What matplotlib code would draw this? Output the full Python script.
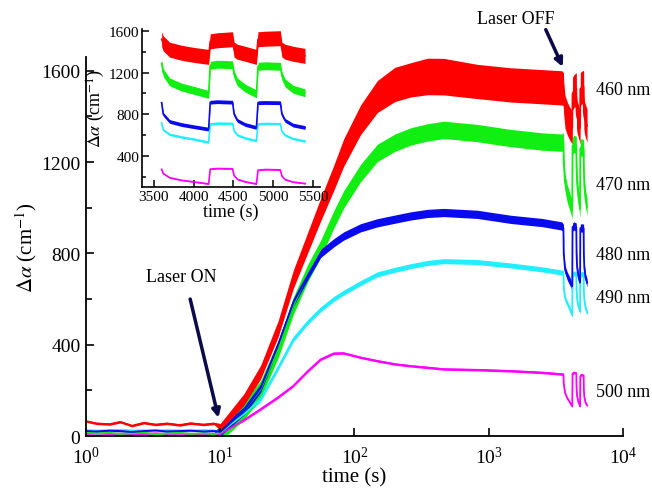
"""
Photo-induced absorption change vs time at five probe wavelengths,
with an inset of the on/off cycling after the laser is switched off.
"""
import matplotlib
matplotlib.use("Agg")
import matplotlib.pyplot as plt
from matplotlib.ticker import MultipleLocator, NullLocator, LogLocator
import numpy as np

plt.rcParams["font.family"] = ["Liberation Serif", "DejaVu Serif"]
plt.rcParams["mathtext.fontset"] = "stix"

# ---- data ------------------------------------------------------------------------
# time grids (s): dark baseline, growth under illumination, cycling after laser off
t_base = [1, 1.2, 1.5, 1.8, 2.2, 2.7, 3.3, 4, 5, 6, 7.5, 9]
t_rise = [10, 15, 20, 27, 35, 45, 56, 70, 83, 111, 148, 200, 262, 350, 464,
          822, 1459, 2500, 3500]
t_off = [3600, 3620, 3700, 3850, 4000, 4190, 4210, 4300, 4490, 4510, 4550,
         4650, 4790, 4810, 4900, 5090, 5110, 5150, 5250, 5400]

red_base = [65, 55, 52, 62, 45, 58, 50, 55, 48, 56, 50, 55]
red_rise = [40, 160, 280, 470, 686, 850, 992, 1130, 1241, 1385, 1487, 1540,
            1560, 1575, 1574, 1553, 1538, 1530, 1525]
red_off = [1520, 1480, 1420, 1390, 1370, 1350, 1500, 1510, 1520, 1420, 1400,
           1380, 1350, 1520, 1525, 1530, 1420, 1400, 1380, 1360]
red_noise_rise = [15, 25, 30, 35, 40, 45, 50, 55, 60, 65, 70, 75, 75, 80, 80,
                  75, 75, 75, 75]

green_base = [15, 12, 14, 10, 12, 15, 8, 12, 14, 10, 12, 8]
green_rise = [15, 110, 205, 380, 570, 715, 820, 948, 1036, 1152, 1240, 1285,
              1312, 1330, 1341, 1327, 1305, 1290, 1285]
green_off = [1290, 1200, 1110, 1060, 1030, 990, 1270, 1280, 1275, 1180, 1110,
             1050, 995, 1260, 1265, 1260, 1170, 1100, 1040, 1005]

blue_base = [22, 20, 24, 22, 18, 22, 25, 20, 22, 24, 20, 22]
blue_rise = [18, 110, 210, 400, 584, 705, 800, 846, 876, 912, 934, 950, 964,
             975, 979, 971, 949, 935, 920]
blue_off = [910, 800, 730, 700, 680, 656, 915, 920, 915, 800, 740, 700, 672,
            910, 912, 910, 800, 740, 695, 672]

cyan_base = [26, 24, 25, 27, 24, 25, 23, 26, 25, 24, 26, 25]
cyan_rise = [15, 95, 162, 300, 424, 500, 555, 600, 628, 670, 708, 728, 744,
             758, 766, 762, 747, 730, 716]
cyan_off = [715, 650, 605, 580, 560, 530, 705, 712, 710, 640, 600, 570, 545,
            705, 710, 708, 635, 598, 565, 540]

magenta_base = [10, 12, 10, 11, 9, 10, 12, 10, 11, 10, 9, 10]
magenta_rise = [8, 70, 118, 170, 220, 285, 336, 362, 363, 344, 329, 315, 307,
                300, 293, 290, 285, 278, 271]
magenta_off = [270, 230, 190, 165, 150, 130, 272, 278, 275, 210, 175, 150, 130,
               262, 268, 265, 205, 172, 148, 134]

wavelengths = ["460 nm", "470 nm", "480 nm", "490 nm", "500 nm"]
label_y = [1517, 1101, 795, 607, 197]

# (base, rise, off, noise half-width once lit, colour), drawn back to front
series = [
    (magenta_base, magenta_rise, magenta_off, 5, "#ff00ff"),
    (cyan_base, cyan_rise, cyan_off, 11, "#22eeff"),
    (green_base, green_rise, green_off, 38, "#11ee11"),
    (blue_base, blue_rise, blue_off, 18, "#0a0aee"),
    (red_base, red_rise, red_off, None, "#ff0000"),
]

ARROW = "#0b0b4a"


def noise_for(half, n_base, n_off):
    if half is None:  # red: band grows as the signal grows
        return np.array([5] * n_base + red_noise_rise + [72] * n_off, float)
    return np.array([3] * n_base + [half] * (len(t_rise) + n_off), float)


fig = plt.figure(figsize=(6.52, 4.89), dpi=100)
ax = fig.add_axes([0.1319, 0.1063, 0.8236, 0.775])

t_all = np.array(t_base + t_rise + t_off, dtype=float)
for base, rise, off, half, col in series:
    v = np.array(base + rise + off, dtype=float)
    hw = noise_for(half, len(base), len(off))
    ax.fill_between(t_all, v - hw, v + hw, color=col, lw=0)
    ax.plot(t_all, v, color=col, lw=1.3)

ax.set_xscale("log")
ax.set_xlim(1, 1e4)
ax.set_ylim(0, 1660)
ax.xaxis.set_major_locator(LogLocator(base=10))
ax.xaxis.set_minor_locator(NullLocator())
ax.yaxis.set_major_locator(MultipleLocator(400))
ax.yaxis.set_minor_locator(MultipleLocator(200))
ax.tick_params(which="both", direction="in", labelsize=14, width=1.2)
ax.tick_params(which="major", length=6)
ax.tick_params(which="minor", length=4)
ax.tick_params(axis="x", pad=7)
ax.tick_params(axis="y", pad=4)
for s in ("top", "right"):
    ax.spines[s].set_visible(False)
for s in ("left", "bottom"):
    ax.spines[s].set_linewidth(1.3)
ax.set_xlabel("time (s)", fontsize=15, labelpad=0)
ax.set_ylabel(r"$\Delta\alpha$ (cm$^{-1}$)", fontsize=15)
ax.yaxis.set_label_coords(-0.088, 0.5)

for txt, y in zip(wavelengths, label_y):
    ax.text(6290, y, txt, fontsize=13, ha="left", va="center")

ax.annotate("", xy=(9.7, 80), xytext=(5.97, 600),
            arrowprops=dict(arrowstyle="-|>", color=ARROW, lw=2.5,
                            mutation_scale=12, shrinkA=0, shrinkB=0))
ax.text(5.1, 700, "Laser ON", fontsize=13, ha="center", va="center")
ax.annotate("", xy=(3560, 1617), xytext=(2660, 1780),
            arrowprops=dict(arrowstyle="-|>", color=ARROW, lw=2.5,
                            mutation_scale=12, shrinkA=0, shrinkB=0),
            annotation_clip=False)
ax.text(1600, 1831, "Laser OFF", fontsize=13, ha="center", va="center",
        clip_on=False)

# ---- inset: cycling after laser off ------------------------------------------------
ins = fig.add_axes([0.218, 0.6155, 0.273, 0.3235])
t_in = np.array(t_off, dtype=float)
for base, rise, off, half, col in series:
    v = np.array(off, dtype=float)
    hw = 72 if half is None else half
    ins.fill_between(t_in, v - hw, v + hw, color=col, lw=0)
    ins.plot(t_in, v, color=col, lw=1.2)

ins.set_xlim(3355, 5590)
ins.set_ylim(100, 1620)
ins.xaxis.set_major_locator(MultipleLocator(500))
ins.yaxis.set_major_locator(MultipleLocator(400))
ins.yaxis.set_minor_locator(MultipleLocator(200))
ins.tick_params(which="both", direction="in", labelsize=11, width=1.1, pad=2)
ins.tick_params(which="major", length=5)
ins.tick_params(which="minor", length=3)
for s in ("top", "right"):
    ins.spines[s].set_visible(False)
for s in ("left", "bottom"):
    ins.spines[s].set_linewidth(1.2)
ins.set_xlabel("time (s)", fontsize=13, labelpad=0)
ins.set_ylabel(r"$\Delta\alpha$ (cm$^{-1}$)", fontsize=13)
ins.yaxis.set_label_coords(-0.2, 0.5)
ins.patch.set_alpha(0)

fig.savefig("out.png", dpi=100)
